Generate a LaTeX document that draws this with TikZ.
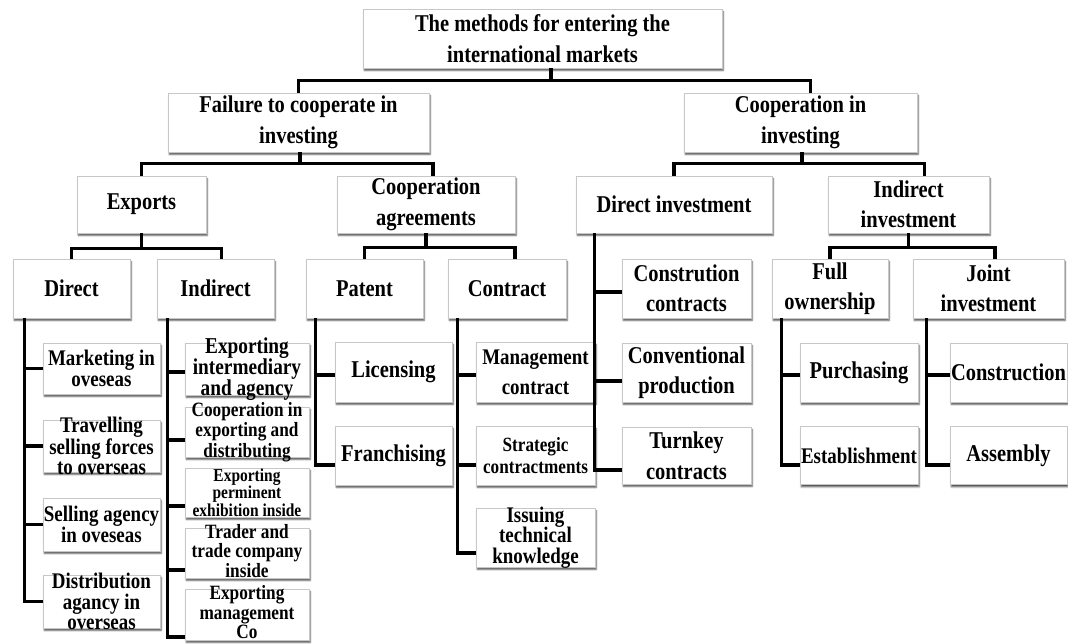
\documentclass[tikz,border=0pt]{standalone}
\usepackage{fontspec}
\setmainfont{Liberation Serif}[FakeStretch=0.85]
\usetikzlibrary{shadows.blur}

% one box: name, centre, width, height, text style, text
\newcommand\treebox[6]{%
  \node[box, minimum width=#3pt, minimum height=#4pt,
        label={[#5]center:{#6}}] (#1) at (#2) {};}

\tikzset{
  box/.style={draw=black!22, line width=0.9pt, fill=white, inner sep=0pt,
    blur shadow={shadow xshift=1.2pt, shadow yshift=-2.4pt,
                 shadow blur radius=1.6pt, shadow blur steps=4,
                 shadow opacity=70}},
  conn/.style={line width=3.6pt, black},
  tbase/.style={align=center, inner sep=0pt},
  ta/.style={tbase, font=\fontsize{24.1}{30.5}\selectfont\bfseries},
  tb/.style={tbase, font=\fontsize{22.3}{20.5}\selectfont\bfseries},
  tc/.style={tbase, font=\fontsize{20.3}{20.5}\selectfont\bfseries},
  tcs/.style={tbase, font=\fontsize{20.3}{19.5}\selectfont\bfseries},
  td/.style={tbase, font=\fontsize{18.2}{14.5}\selectfont\bfseries},
  te/.style={tbase, font=\fontsize{22.3}{30}\selectfont\bfseries},
  tf/.style={tbase, font=\fontsize{20.2}{22}\selectfont\bfseries},
  tg/.style={tbase, font=\fontsize{22.7}{21}\selectfont\bfseries},
}

\begin{document}
\begin{tikzpicture}[x=1pt, y=-1pt]
\useasboundingbox (0,0) rectangle (1068,643);

% ---- top levels
\treebox{root}{542.5,38.5}{359}{59}{ta}{The methods for entering the\\international markets}
\treebox{fail}{298.5,122.5}{261}{59}{ta}{Failure to cooperate in\\investing}
\treebox{coopinv}{800.5,122.5}{233}{59}{ta}{Cooperation in\\investing}

\treebox{exports}{141.5,204.5}{129}{57}{ta}{Exports}
\treebox{coopagr}{426,204.5}{178}{57}{ta}{Cooperation\\agreements}
\treebox{dirinv}{674,204.5}{196}{57}{ta}{Direct investment}
\treebox{indinv}{908.5,204.5}{161}{57}{ta}{Indirect\\investment}

\treebox{direct}{71.5,288.5}{117}{59}{ta}{Direct}
\treebox{indirect}{215.5,288.5}{117}{59}{ta}{Indirect}
\treebox{patent}{364.5,288.5}{117}{59}{ta}{Patent}
\treebox{contract}{507,288.5}{118}{59}{ta}{Contract}
\treebox{full}{830,288.5}{116}{59}{ta}{Full\\ownership}
\treebox{joint}{988.5,288.5}{151}{59}{ta}{Joint\\investment}

% ---- direct exports
\treebox{d1}{101.5,368.5}{117}{51}{tb}{Marketing in\\oveseas}
\treebox{d2}{101.5,446}{117}{52}{tb}{Travelling\\selling forces\\to overseas}
\treebox{d3}{101.5,524.5}{117}{53}{tb}{Selling agency\\in oveseas}
\treebox{d4}{101.5,601.5}{117}{53}{tb}{Distribution\\agancy in\\overseas}

% ---- indirect exports
\treebox{i1}{247,369}{124}{52}{tg}{Exporting\\intermediary\\and agency}
\treebox{i2}{247,432}{124}{50}{tc}{Cooperation in\\exporting and\\distributing}
\treebox{i3}{247,492.5}{124}{49}{td}{Exporting\\perminent\\exhibition inside}
\treebox{i4}{247,553}{124}{50}{tcs, yshift=2pt}{Trader and\\trade company\\inside}
\treebox{i5}{247,614.5}{124}{51}{tcs, yshift=2pt}{Exporting\\management\\Co}

% ---- patent and contract
\treebox{p1}{393.5,372}{117}{60}{ta}{Licensing}
\treebox{p2}{393.5,455.5}{117}{59}{ta}{Franchising}
\treebox{c1}{535.5,372}{119}{60}{te}{Management\\contract}
\treebox{c2}{535.5,455.5}{119}{59}{tf}{Strategic\\contractments}
\treebox{c3}{535.5,537.5}{119}{59}{tb}{Issuing\\technical\\knowledge}

% ---- direct investment
\treebox{v1}{686.5,288.5}{129}{59}{ta}{Constrution\\contracts}
\treebox{v2}{686.5,372.5}{129}{59}{ta}{Conventional\\production}
\treebox{v3}{686.5,455.5}{129}{57}{ta}{Turnkey\\contracts}

% ---- full ownership and joint investment
\treebox{f1}{859,372.5}{118}{59}{ta}{Purchasing}
\treebox{f2}{859,455.5}{118}{58}{tb}{Establishment}
\treebox{j1}{1008.5,372.5}{117}{59}{ta}{Construction}
\treebox{j2}{1008.5,455.5}{117}{58}{ta}{Assembly}

% ---- connectors between levels
\draw[conn] ([xshift=8.5pt]root.south) -- ++(0,12) coordinate (k0);
\draw[conn] (fail.north) |- (k0) -| ([xshift=10pt]coopinv.north);

\draw[conn] ([xshift=1.5pt]fail.south) -- ++(0,11) coordinate (k1);
\draw[conn] (exports.north) |- (k1) -| ([xshift=7pt]coopagr.north);
\draw[conn] ([xshift=1.5pt]coopinv.south) -- ++(0,11) coordinate (k2);
\draw[conn] (dirinv.north) |- (k2) -| ([xshift=16pt]indinv.north);

\draw[conn] (exports.south) -- ++(0,15) coordinate (k3);
\draw[conn] (direct.north) |- (k3) -| ([xshift=6pt]indirect.north);
\draw[conn] (coopagr.south) -- ++(0,14) coordinate (k4);
\draw[conn] (patent.north) |- (k4) -| ([xshift=8pt]contract.north);
\draw[conn] (indinv.south) -- ++(0,14) coordinate (k5);
\draw[conn] (full.north) |- (k5) -| ([xshift=6.5pt]joint.north);

% ---- spines to the leaves
\foreach \n in {d1,d2,d3,d4}
  \draw[conn] ([xshift=12pt]direct.south west) |- (\n.west);
\foreach \n/\s in {i1/-3,i2/-8,i3/-13.5,i4/-17,i5/-22.5}
  \draw[conn] ([xshift=11pt]indirect.south west) |- ([yshift=\s pt]\n.west);
\foreach \n/\s in {p1/-3,p2/-9.5}
  \draw[conn] ([xshift=10pt]patent.south west) |- ([yshift=\s pt]\n.west);
\foreach \n/\s in {c1/-3,c2/-9.5,c3/-15.5}
  \draw[conn] ([xshift=10pt]contract.south west) |- ([yshift=\s pt]\n.west);
\foreach \n/\s in {v1/-3.5,v2/-8.5,v3/-14.5}
  \draw[conn] ([xshift=19pt]dirinv.south west) |- ([yshift=\s pt]\n.west);
\foreach \n/\s in {f1/-2.5,f2/-9.5}
  \draw[conn] ([xshift=10pt]full.south west) |- ([yshift=\s pt]\n.west);
\foreach \n/\s in {j1/-2.5,j2/-9.5}
  \draw[conn] ([xshift=14pt]joint.south west) |- ([yshift=\s pt]\n.west);
\end{tikzpicture}
\end{document}
